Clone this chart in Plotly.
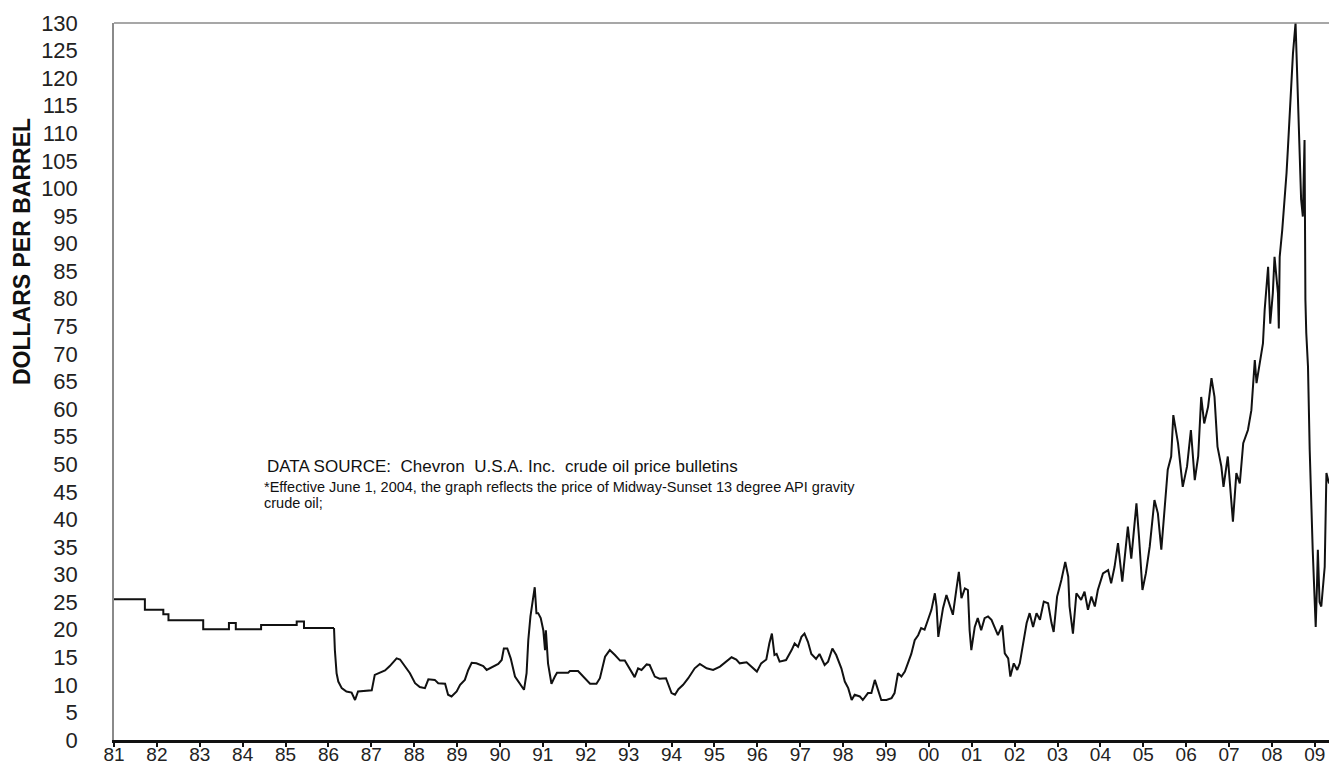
import plotly.graph_objects as go

# ---- data (decimal year, $/barrel) ----
t_a = [1981.00, 1981.72, 1982.15, 1982.27, 1983.08, 1983.68, 1983.84, 1984.43, 1985.26, 1985.43, 1986.09]
p_a = [25.5, 23.6, 22.8, 21.7, 20.1, 21.2, 20.1, 20.85, 21.5, 20.3, 20.3]

t_b = [1986.13, 1986.15, 1986.19, 1986.23, 1986.31, 1986.42, 1986.54, 1986.62, 1986.69, 1987.01, 1987.08,
       1987.16, 1987.32, 1987.43, 1987.59, 1987.67, 1987.78, 1987.90, 1988.02, 1988.13, 1988.25,
       1988.33, 1988.48, 1988.56, 1988.72, 1988.79, 1988.87, 1988.99, 1989.07, 1989.18, 1989.26,
       1989.34, 1989.45, 1989.61, 1989.69, 1989.80, 1989.96, 1990.04, 1990.09, 1990.17, 1990.25,
       1990.35, 1990.46, 1990.56, 1990.62, 1990.66, 1990.71, 1990.77, 1990.81, 1990.85, 1990.89,
       1990.95, 1991.01, 1991.05, 1991.07, 1991.12, 1991.20, 1991.28, 1991.33]
p_b = [20.3, 16.3, 12.1, 10.6, 9.4, 8.8, 8.6, 7.25, 8.8, 9.0, 11.8,
       12.1, 12.6, 13.4, 14.8, 14.6, 13.4, 12.1, 10.3, 9.6, 9.4,
       11.0, 10.9, 10.3, 10.2, 8.2, 7.9, 8.8, 10.0, 10.9, 12.7,
       14.0, 13.9, 13.4, 12.7, 13.2, 13.8, 14.5, 16.6, 16.6, 14.8,
       11.5, 10.3, 9.1, 12.1, 18.1, 22.4, 25.4, 27.7, 23.0, 23.0,
       22.1, 19.9, 16.3, 19.9, 13.9, 10.2, 11.5, 12.2]

t_c = [1991.59, 1991.63, 1991.82, 1992.02, 1992.10, 1992.25, 1992.33, 1992.45, 1992.56, 1992.68,
       1992.80, 1992.91, 1993.03, 1993.14, 1993.22, 1993.30, 1993.42, 1993.49, 1993.61, 1993.72,
       1993.87, 1993.92, 1994.00, 1994.08, 1994.16, 1994.27, 1994.39, 1994.54, 1994.66, 1994.82,
       1994.97, 1995.13, 1995.24, 1995.40, 1995.51, 1995.59, 1995.75, 1995.90, 1995.99, 1996.09,
       1996.21, 1996.28, 1996.34, 1996.40, 1996.45, 1996.52, 1996.67, 1996.80, 1996.87, 1996.95,
       1997.03, 1997.10, 1997.18, 1997.26, 1997.37, 1997.45, 1997.57, 1997.65, 1997.75, 1997.84,
       1997.96, 1998.04, 1998.12, 1998.20, 1998.27, 1998.39, 1998.46, 1998.58, 1998.66, 1998.74,
       1998.81, 1998.89, 1999.01, 1999.13, 1999.20, 1999.28, 1999.36, 1999.44, 1999.51, 1999.59,
       1999.67, 1999.75, 1999.82, 1999.90, 1999.98]
p_c = [12.2, 12.5, 12.5, 10.9, 10.2, 10.2, 11.2, 15.1, 16.3, 15.4,
       14.4, 14.4, 12.7, 11.4, 13.0, 12.7, 13.7, 13.6, 11.5, 11.1,
       11.2, 10.0, 8.5, 8.2, 9.2, 10.0, 11.2, 13.0, 13.8, 13.0,
       12.7, 13.3, 14.0, 15.0, 14.6, 13.9, 14.1, 13.0, 12.4, 13.9,
       14.6, 17.5, 19.3, 15.4, 15.6, 14.2, 14.5, 16.3, 17.5, 16.9,
       18.7, 19.3, 17.8, 15.6, 14.7, 15.6, 13.6, 14.2, 16.6, 15.4,
       13.0, 10.6, 9.4, 7.25, 8.2, 7.9, 7.25, 8.5, 8.5, 10.9,
       9.0, 7.25, 7.25, 7.6, 8.5, 12.1, 11.5, 12.4, 13.9, 15.6,
       18.1, 19.0, 20.3, 20.0, 21.8]

t_d = [2000.06, 2000.14, 2000.18, 2000.22, 2000.33, 2000.41, 2000.49, 2000.56, 2000.64, 2000.70,
       2000.76, 2000.84, 2000.91, 2000.95, 2000.99, 2001.07, 2001.14, 2001.22, 2001.30, 2001.38,
       2001.46, 2001.54, 2001.61, 2001.71, 2001.77, 2001.85, 2001.90, 2001.98, 2002.06, 2002.12,
       2002.20, 2002.28, 2002.35, 2002.43, 2002.51, 2002.59, 2002.68, 2002.78, 2002.86, 2002.91,
       2002.99, 2003.09, 2003.18, 2003.25, 2003.28, 2003.36, 2003.44, 2003.55, 2003.63, 2003.71,
       2003.79, 2003.87, 2003.94]
p_d = [23.6, 26.6, 24.2, 18.7, 23.9, 26.3, 24.5, 22.7, 27.2, 30.5,
       25.7, 27.5, 27.2, 19.9, 16.3, 20.5, 22.1, 19.9, 22.1, 22.4,
       21.8, 20.3, 19.0, 20.8, 15.7, 14.8, 11.5, 13.9, 12.7, 13.9,
       17.5, 21.2, 23.0, 20.5, 23.0, 21.8, 25.1, 24.8, 21.2, 19.6,
       26.0, 29.0, 32.3, 29.6, 24.2, 19.3, 26.6, 25.4, 26.9, 23.6,
       26.0, 24.2, 27.2]

t_e = [2004.06, 2004.18, 2004.25, 2004.33, 2004.41, 2004.51, 2004.64, 2004.72, 2004.84, 2004.90,
       2004.98, 2005.06, 2005.15, 2005.26, 2005.34, 2005.42, 2005.50, 2005.57, 2005.65, 2005.70,
       2005.81, 2005.92, 2006.02, 2006.11, 2006.20, 2006.28, 2006.35, 2006.42, 2006.51, 2006.59,
       2006.66, 2006.73, 2006.82, 2006.87, 2006.97, 2007.03, 2007.09, 2007.17, 2007.25, 2007.33,
       2007.44, 2007.52, 2007.60, 2007.64]
p_e = [30.2, 30.8, 28.4, 31.4, 35.7, 28.7, 38.7, 32.9, 42.9, 36.8,
       27.2, 30.2, 35.1, 43.5, 41.1, 34.5, 42.9, 49.0, 51.4, 58.9,
       53.8, 45.9, 49.6, 56.2, 47.1, 51.4, 62.2, 57.4, 60.4, 65.6,
       62.2, 53.2, 49.6, 45.9, 51.4, 45.9, 39.6, 48.4, 46.5, 53.8,
       56.2, 59.8, 68.9, 64.7]

t_f = [2007.71, 2007.79, 2007.83, 2007.91, 2007.96, 2008.02, 2008.06, 2008.14, 2008.16, 2008.18,
       2008.24, 2008.30, 2008.34, 2008.37, 2008.41, 2008.45, 2008.49, 2008.55, 2008.61, 2008.65,
       2008.68, 2008.72, 2008.76, 2008.78, 2008.80, 2008.84, 2008.88, 2008.95, 2009.02, 2009.05,
       2009.07, 2009.11, 2009.15, 2009.23, 2009.27, 2009.33]
p_f = [68.3, 71.9, 78.0, 85.8, 75.5, 81.0, 87.6, 81.0, 74.6, 87.6,
       92.5, 97.9, 102.8, 107.0, 113.0, 119.7, 124.5, 130.0, 113.0, 102.8,
       98.0, 94.9, 108.8, 79.8, 73.8, 67.7, 52.6, 34.5, 20.5, 28.0,
       34.5, 25.0, 24.2, 31.4, 48.4, 46.5]

# posted-price steps (1981-86) and the later, denser record
step_years, step_prices = t_a, p_a
years = t_b + t_c + t_d + t_e + t_f
prices = p_b + p_c + p_d + p_e + p_f

tick_years = list(range(1981, 2010))
tick_labels = [f"{y % 100:02d}" for y in tick_years]
y_ticks = list(range(0, 131, 5))

LINE = "#111111"

# ---- figure ----
fig = go.Figure()
fig.add_trace(go.Scatter(
    x=step_years + [years[0]], y=step_prices + [prices[0]], mode="lines",
    line=dict(color=LINE, width=2, shape="hv"),
    showlegend=False, hoverinfo="x+y",
))
fig.add_trace(go.Scatter(
    x=years, y=prices, mode="lines",
    line=dict(color=LINE, width=2),
    showlegend=False, hoverinfo="x+y",
))

fig.update_layout(
    width=1329, height=768,
    margin=dict(l=114, r=0, t=23, b=28, autoexpand=False),
    paper_bgcolor="white", plot_bgcolor="white",
    font=dict(family="Liberation Sans, Arial, sans-serif", color="#222222"),
    xaxis=dict(
        range=[1981, 2009.33], tickvals=tick_years, ticktext=tick_labels,
        showgrid=False, zeroline=False, automargin=False,
        showline=True, linecolor=LINE, linewidth=3,
        ticks="outside", ticklen=4, tickwidth=2, tickcolor=LINE,
        ticklabelstandoff=-9,
        tickfont=dict(size=19, color="#222222"),
    ),
    yaxis=dict(
        range=[0, 130], tickvals=y_ticks,
        showgrid=False, zeroline=False, automargin=False,
        showline=True, linecolor="#8a8a8a", linewidth=1.5,
        ticks="", ticklabelstandoff=30,
        tickfont=dict(size=22, color="#222222"),
    ),
    shapes=[dict(type="line", xref="paper", yref="paper", x0=0, x1=1, y0=1, y1=1,
                 line=dict(color="#8a8a8a", width=1.5))],
    annotations=[
        dict(text="<b>DOLLARS PER BARREL</b>", textangle=-90, xref="paper", yref="paper",
             x=-0.0757, y=0.6806, showarrow=False, xanchor="center", yanchor="middle",
             font=dict(size=23, color="#111111")),
        dict(text="DATA SOURCE:  Chevron  U.S.A. Inc.  crude oil price bulletins",
             xref="paper", yref="paper", x=0.1243, y=0.3808, xanchor="left", yanchor="middle",
             showarrow=False, font=dict(size=17, color="#111111")),
        dict(text="*Effective June 1, 2004, the graph reflects the price of Midway-Sunset 13 degree API gravity",
             xref="paper", yref="paper", x=0.1218, y=0.3529, xanchor="left", yanchor="middle",
             showarrow=False, font=dict(size=14.5, color="#111111")),
        dict(text="crude oil;",
             xref="paper", yref="paper", x=0.1218, y=0.3305, xanchor="left", yanchor="middle",
             showarrow=False, font=dict(size=14.5, color="#111111")),
    ],
)

# remove the page's default 8px body margin so the figure fills the window exactly
fig.write_html(
    "out.html",
    config={"displayModeBar": False},
    post_script="document.body.style.margin='0';document.body.style.overflow='hidden';",
)
